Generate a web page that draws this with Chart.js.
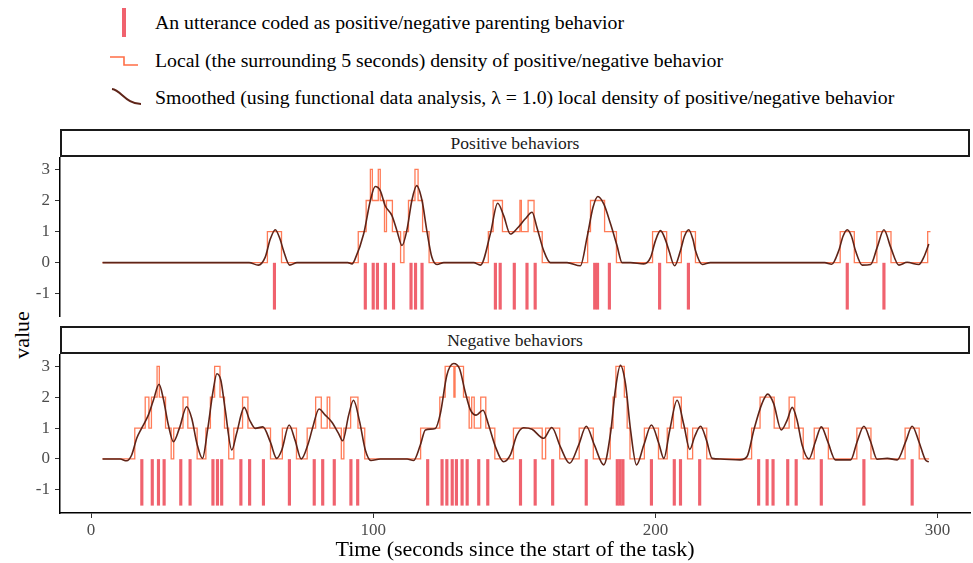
<!DOCTYPE html>
<html>
<head>
<meta charset="utf-8">
<script src="https://cdn.jsdelivr.net/npm/chart.js@4.4.1/dist/chart.umd.min.js"></script>
<style>
  body { margin: 0; background: #fff; }
  #wrap { position: relative; width: 973px; height: 563px; font-family: "Liberation Serif", "DejaVu Serif", serif; color: #000; }
  .lg { position: absolute; left: 155px; font-size: 19.8px; line-height: 22px; white-space: nowrap; }
  .strip { position: absolute; left: 60px; width: 906px; height: 24px; border: 2px solid #1a1a1a; background: #fff;
           font-size: 17.5px; line-height: 24px; text-align: center; color: #1a1a1a; }
  #ytitle { position: absolute; left: 22px; top: 335px; transform: translate(-50%, -50%) rotate(-90deg); font-size: 22px; }
  canvas { position: absolute; left: 0; }
</style>
</head>
<body>
<div id="wrap">
  <svg width="150" height="120" style="position:absolute;left:0;top:0">
    <rect x="122" y="8" width="4" height="29" fill="#f0626e"/>
    <polyline points="110,57 124,57 124,65 138,65" fill="none" stroke="#ff6e46" stroke-width="1.6"/>
    <path d="M112,89 C121,90 126,104 141,104" fill="none" stroke="#5e2418" stroke-width="2"/>
  </svg>
  <div class="lg" style="top:11px">An utterance coded as positive/negative parenting behavior</div>
  <div class="lg" style="top:49px">Local (the surrounding 5 seconds) density of positive/negative behavior</div>
  <div class="lg" style="top:86px">Smoothed (using functional data analysis, λ = 1.0) local density of positive/negative behavior</div>

  <div class="strip" style="top:129px">Positive behaviors</div>
  <div class="strip" style="top:326px">Negative behaviors</div>
  <div id="ytitle">value</div>

  <canvas id="top" width="973" height="160" style="top:157px"></canvas>
  <canvas id="bottom" width="973" height="209" style="top:354px"></canvas>
</div>
<script>
// utterance times (seconds)
const posRugT = [65, 97.2, 100, 101.5, 104.3, 107.2, 113.4, 115, 117.3, 143.3, 145, 150, 154.5, 157.4,
  178.5, 179.5, 183.7, 201.5, 211.7, 268, 281];
const negRugT = [18, 21.7, 23.9, 25.9, 31.8, 35.1, 43.2, 44.8, 46.3, 53.1, 56.2, 61.1, 70.3, 79.1, 82.1, 86.2,
  92.1, 94.5, 119.3, 124.4, 126.1, 128, 129.5, 131.5, 133.3, 137.4, 140.6, 152.2, 157.4, 163.6, 175.5,
  186.5, 187.5, 188.5, 198.6, 206.7, 208.9, 215.7, 236.6, 239.6, 241.7, 246.9, 249.9, 258.8, 273.9, 291];

// local density (step starts and values)
const posStepT = [4, 62.5, 67.5, 94.7, 97.5, 99, 99.7, 101.8, 102.5, 104, 104.7, 106.8, 109.7, 110.9, 112.5,
  114.8, 115.9, 117.5, 119.8, 140.8, 142.5, 145.8, 152, 152.5, 154.9, 157, 159.9, 176, 177, 182, 186.2,
  199, 204, 209.2, 214.2, 265.5, 270.5, 278.5, 283.5, 296.5, 297.5];
const posStepV = [0, 1, 0, 1, 2, 3, 2, 3, 2, 1, 2, 1, 0, 1, 2,
  3, 2, 1, 0, 1, 2, 1, 2, 1, 2, 1, 0, 1, 2, 1, 0,
  1, 0, 1, 0, 1, 0, 1, 0, 1, 1];
const negStepT = [4, 15.5, 19.2, 20.5, 21.4, 23.4, 24.2, 26.4, 28.4, 29.3, 32.6, 34.3, 37.6, 40.7, 42.3, 43.8,
  45.7, 47.3, 48.8, 50.6, 53.7, 55.6, 63.6, 67.8, 72.8, 76.6, 79.6, 81.6, 83.7, 84.6, 88.7, 89.6, 92, 94.6,
  97, 116.8, 123.6, 125.5, 128.6, 129, 132, 134, 134.9, 135.8, 138.1, 139.9, 143.1, 149.7, 159.9, 161.1,
  166.1, 173, 178, 184, 185, 186, 189, 190, 191, 196.1, 201.1, 204.2, 206.4, 209.2, 211.4, 213.2, 218.2,
  234.1, 237.1, 242.1, 247.4, 249.4, 252.4, 256.3, 261.3, 271.4, 276.4, 288.5, 293.5, 297];
const negStepV = [0, 1, 2, 1, 2, 3, 2, 1, 0, 1, 2, 1, 0, 1, 2, 3,
  2, 1, 0, 1, 2, 1, 0, 1, 0, 1, 2, 1, 2, 1, 0, 1, 2, 1,
  0, 1, 2, 3, 2, 3, 2, 1, 2, 1, 2, 1, 0, 1, 0, 1,
  0, 1, 0, 1, 2, 3, 2, 1, 0, 1, 0, 1, 2, 1, 0, 1, 0,
  1, 2, 1, 2, 1, 0, 1, 0, 1, 0, 1, 0, 0];

// smoothed density
const posSmoothT = [4.1, 56, 59.3, 61.7, 63.5, 65.3, 67, 68.2, 70.4, 73, 91, 92.5, 93.6, 96.6, 99, 100.7, 102.5,
  104.2, 106.6, 108.4, 110.2, 111.9, 113.7, 115.4, 117.3, 119, 120.8, 122.6, 125, 135.6, 138, 141.5, 144.1,
  146.2, 148.6, 150.9, 153.9, 156.3, 158, 160.4, 162.8, 168.7, 173.4, 175.8, 177.9, 179.6, 181.7, 184.1,
  186.4, 188.2, 191.2, 195.9, 198.3, 200, 201.8, 203.5, 204.8, 206.8, 208.9, 210.3, 211.8, 213.3, 214.2,
  216.6, 219.5, 260, 262.5, 265, 266.5, 268, 269.5, 270.9, 273.3, 276.3, 278.6, 281, 283.4, 286.3, 289.2,
  293.4, 295.1, 296.9];
const posSmoothV = [0, 0, -0.08, 0.17, 0.75, 1.06, 0.75, 0.39, -0.08, 0, 0, -0.04, 0.12, 0.92, 2.0, 2.45, 2.32,
  1.84, 1.52, 1.03, 0.55, 1.03, 2.0, 2.48, 2.0, 1.03, 0.17, -0.06, 0, 0, -0.08, 0.92, 1.91,
  1.52, 0.92, 1.09, 1.41, 1.62, 1.14, 0.39, 0, 0, -0.1, 0.82, 1.78, 2.13, 1.89, 1.25,
  0.55, 0, 0, -0.04, 0.17, 0.7, 1.03, 0.75, 0.39, -0.1, 0.39, 0.85, 1.06, 0.75, 0.39,
  -0.06, 0, 0, -0.05, 0.39, 0.85, 1.06, 0.85, 0.39, -0.08, -0.06, 0.49, 1.06, 0.49, -0.08, 0.01,
  -0.06, 0.17, 0.6];
const negSmoothT = [4.1, 10.3, 12.6, 14.4, 16.2, 17.9, 20.3, 22.1, 24.1, 25.6, 27.4, 29.2, 31.3, 33.9, 35.7,
  37.5, 39.5, 41.3, 43.2, 44.6, 46, 47.5, 49.9, 51.6, 54.3, 56.2, 58.2, 60.9, 63.5, 65.8, 67.6, 70.2, 72.3,
  74.5, 77, 78.5, 80.8, 83, 85.3, 87.7, 89.2, 91.3, 93, 95.2, 97.2, 99.2, 102.5, 112, 114.3, 116.7, 118.5,
  122, 123.8, 126.1, 128.5, 130.6, 132.6, 134.4, 136.5, 138.9, 140.9, 143.3, 146.2, 148.6, 150.9, 153.3,
  156.3, 160.4, 163.3, 166.3, 169.6, 172.8, 175.5, 178.4, 181.7, 184.1, 185.8, 187.6, 189.4, 191.2, 193.3,
  195.9, 198.6, 201.2, 203, 205.1, 207.7, 210.1, 212.2, 213.9, 216, 218.1, 220.1, 223.1, 230, 232.5, 234.9,
  237.8, 239.8, 241.9, 244.6, 246.7, 248.5, 250.2, 252, 254.4, 256.7, 258.8, 261.1, 263.8, 269.2, 271.5,
  273.9, 276.3, 278.6, 282.2, 285.7, 288.7, 291, 293.4, 295.7, 296.9];
const negSmoothV = [0, 0, -0.06, 0.13, 0.67, 0.99, 1.42, 1.9, 2.42, 1.96, 1.1, 0.56, 0.99, 1.69, 1.31,
  0.51, 0.02, 0.94, 2.17, 2.76, 2.55, 1.63, 0.29, 0.83, 1.67, 1.26, 0.99, 1.04, 0.56, 0.02, 0.29, 1.1, 0.61,
  0, 0.51, 1.0, 1.62, 1.42, 1.2, 0.83, 0.59, 1.42, 1.9, 1.2, 0.29, -0.05, 0, 0, -0.05, 0.45, 0.94,
  0.99, 1.47, 2.71, 3.09, 2.92, 2.17, 1.6, 1.42, 1.58, 1.1, 0.4, -0.09, 0.13, 0.77, 1.01,
  0.96, 0.67, 1.02, 0.4, -0.14, 0.45, 1.06, 0.45, -0.19, 0.83, 2.23, 3.03, 2.44, 0.94, -0.19,
  0.45, 1.1, 0.51, 0.02, 0.94, 1.9, 1.1, 0.31, 0.72, 1.06, 0.61, 0.02, 0, -0.03, 0.08, 0.94,
  1.8, 2.1, 1.8, 0.94, 1.26, 1.67, 1.26, 0.45, 0, 0.56, 1.04, 0.56, -0.03, -0.03, 0.56,
  1.06, 0.56, -0.01, 0.02, -0.03, 0.56, 1.06, 0.56, -0.03, -0.09];

const RUG_RANGE = [-1.5, 0];
const xTicks = [0, 100, 200, 300];
const yTicks = [-1, 0, 1, 2, 3];

Chart.defaults.font.family = '"Liberation Serif", "DejaVu Serif", serif';

function makeChart(id, rugT, stepT, stepV, smT, smV, showX) {
  const pts = (xs, ys) => xs.map((x, i) => ({x: x, y: ys[i]}));
  return new Chart(document.getElementById(id), {
    type: 'line',
    data: {
      datasets: [
        { type: 'bar', data: rugT.map(t => ({x: t, y: RUG_RANGE})), backgroundColor: '#f0626e',
          barThickness: 2.5, grouped: false, order: 3 },
        { data: pts(stepT, stepV), stepped: true, borderColor: 'rgba(255,110,70,0.9)', borderWidth: 1.3,
          pointRadius: 0, order: 2 },
        { data: pts(smT, smV), borderColor: '#5e2418', borderWidth: 1.6, pointRadius: 0,
          cubicInterpolationMode: 'monotone', order: 1 }
      ]
    },
    options: {
      responsive: false,
      animation: false,
      layout: { padding: { left: 0, right: 3, top: 0, bottom: 0 }, autoPadding: false },
      plugins: { legend: { display: false }, tooltip: { enabled: false } },
      scales: {
        x: {
          type: 'linear', min: -11, max: 311.5, offset: false, display: showX,
          afterBuildTicks: s => { s.ticks = xTicks.map(v => ({value: v})); },
          afterFit: s => { s.height = showX ? 50 : 0; s.paddingLeft = 0; s.paddingRight = 0; },
          grid: { offset: false, drawOnChartArea: false, drawTicks: true, tickLength: 5, color: '#333' },
          border: { display: true, color: '#000', width: 1.5 },
          ticks: { color: '#4d4d4d', font: { size: 17 }, padding: 2, maxRotation: 0 },
          title: { display: true, text: 'Time (seconds since the start of the task)', color: '#000',
                   font: { size: 22 }, padding: { top: 0, bottom: 0 } }
        },
        y: {
          min: -1.75, max: 3.4,
          afterBuildTicks: s => { s.ticks = yTicks.map(v => ({value: v})); },
          afterFit: s => { s.width = 60; s.paddingTop = 0; s.paddingBottom = 0; },
          grid: { drawOnChartArea: false, drawTicks: true, tickLength: 5, color: '#333' },
          border: { display: true, color: '#000', width: 1.5 },
          ticks: { color: '#4d4d4d', font: { size: 17 }, padding: 5 }
        }
      }
    }
  });
}

makeChart('top', posRugT, posStepT, posStepV, posSmoothT, posSmoothV, false);
makeChart('bottom', negRugT, negStepT, negStepV, negSmoothT, negSmoothV, true);
</script>
</body>
</html>
